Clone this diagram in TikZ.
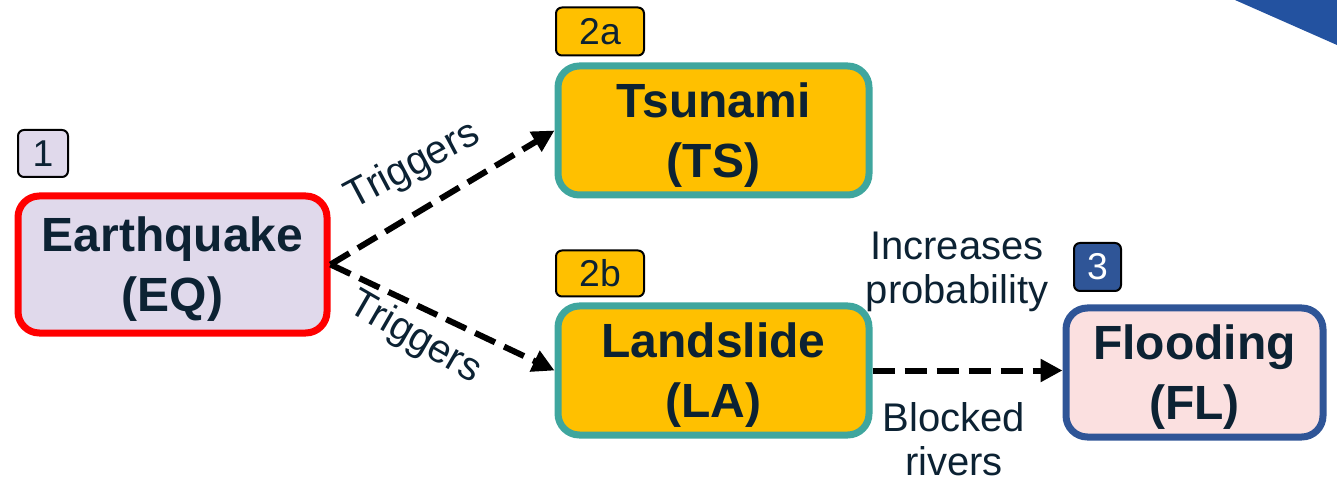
\documentclass[tikz,border=0pt]{standalone}
\usepackage{fontspec}
\setmainfont{Liberation Sans}
\usetikzlibrary{arrows.meta}

\definecolor{ink}{HTML}{0C2233}
\definecolor{eqfill}{HTML}{E0D9EB}
\definecolor{eqline}{HTML}{FF0000}
\definecolor{amber}{HTML}{FFC000}
\definecolor{teal}{HTML}{3FA69E}
\definecolor{flfill}{HTML}{FBE0E0}
\definecolor{navy}{HTML}{2F5597}
\definecolor{corner}{HTML}{2352A0}

\tikzset{
  hazard/.style={draw, rounded corners=16pt, line width=5.25pt, inner sep=0pt},
  hazardtext/.style={text=ink, align=center, inner sep=0pt,
    font=\fontsize{36}{45}\selectfont\bfseries},
  badge/.style={draw=black, rounded corners=4.5pt, line width=1.5pt, text=ink,
    inner sep=0pt, font=\fontsize{28}{32}\selectfont},
  link/.style={line width=4.5pt, dash pattern=on 16.5pt off 7.5pt,
    -{Triangle[length=16.5pt,width=16.5pt]}},
  note/.style={text=ink, align=center, inner sep=0pt,
    font=\fontsize{30}{33}\selectfont}
}

\begin{document}
\begin{tikzpicture}[x=0.75pt,y=-0.75pt]
\useasboundingbox (0,0) rectangle (1337,484);

% corner ribbon
\fill[corner] (1235,0) -- (1337,0) -- (1337,45) -- cycle;

% hazard boxes
\node[hazard, draw=eqline, fill=eqfill, minimum width=231.75pt, minimum height=102.75pt]
  (EQ) at (172.5,264.5) {};
\node[hazard, draw=teal, fill=amber, minimum width=233.25pt, minimum height=96.75pt]
  (TS) at (713.5,130.5) {};
\node[hazard, draw=teal, fill=amber, minimum width=233.25pt, minimum height=96.75pt]
  (LA) at (713.5,370.5) {};
\node[hazard, draw=navy, fill=flfill, minimum width=192.75pt, minimum height=96.75pt]
  (FL) at (1194.5,372.5) {};

% hazard names
\node[hazardtext] (EQt) at ([yshift=-3.5pt]EQ.center) {Earthquake\\(EQ)};
\node[hazardtext] (TSt) at ([yshift=-3.5pt]TS.center) {Tsunami\\(TS)};
\node[hazardtext] (LAt) at ([yshift=-3.5pt]LA.center) {Landslide\\(LA)};
\node[hazardtext] (FLt) at ([yshift=-3.5pt]FL.center) {Flooding\\(FL)};

% step badges
\node[badge, fill=eqfill, minimum width=37.5pt, minimum height=35.25pt]
  (b1) at (43,153.5) {1};
\node[badge, fill=amber, minimum width=66pt, minimum height=36pt]
  (b2a) at (600,31.5) {2a};
\node[badge, fill=amber, minimum width=66pt, minimum height=34.5pt]
  (b2b) at (600,273.5) {2b};
\node[badge, fill=navy, text=white, minimum width=35.25pt, minimum height=36pt]
  (b3) at (1097.5,267) {3};

% causal links
\draw[link] (EQ.east) -- (TS.west);
\draw[link] (EQ.east) -- (LA.west);
\draw[link] (LA.east) -- (FL.west |- LA.east);

% link labels
\node[note, rotate=28] (t1) at (413,166) {Triggers};
\node[note, rotate=-30] (t2) at (415,338) {Triggers};
\node[note] (inc) at (957,272) {Increases\\probability};
\node[note] (blk) at (954,439) {Blocked\\rivers};
\end{tikzpicture}
\end{document}
